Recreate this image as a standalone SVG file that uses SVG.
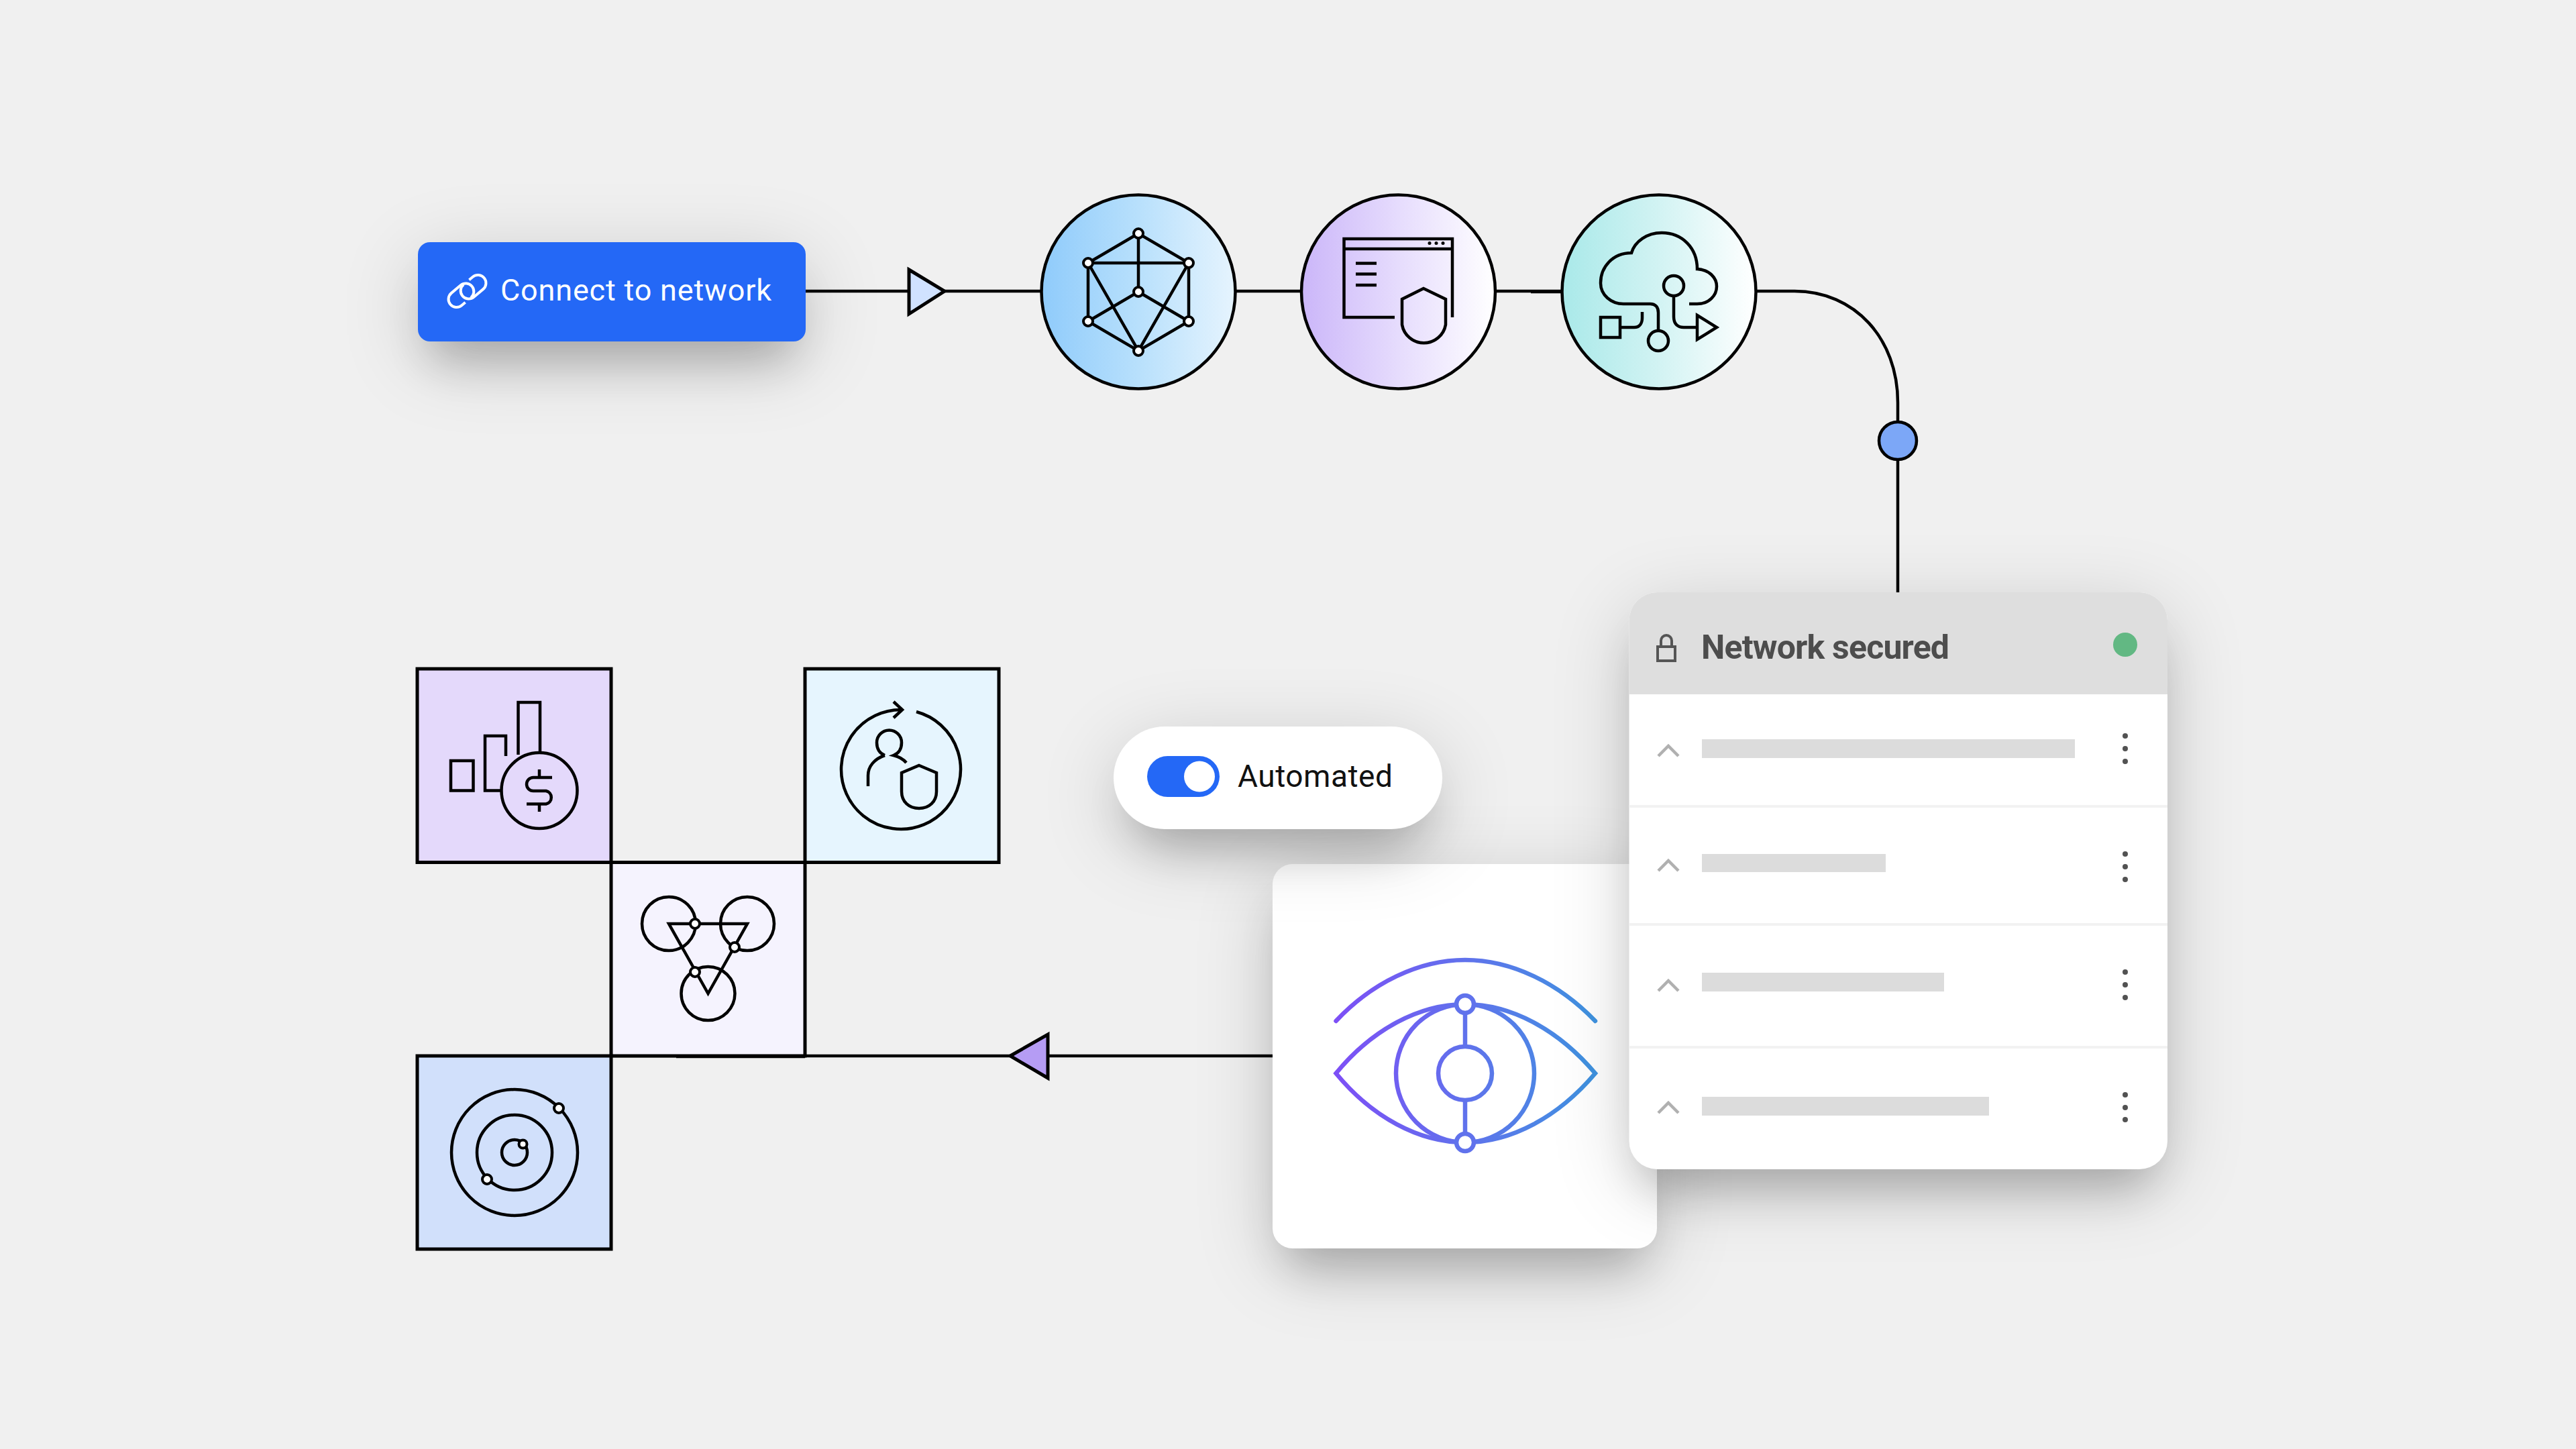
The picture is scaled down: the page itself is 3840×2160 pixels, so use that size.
<svg xmlns="http://www.w3.org/2000/svg" width="3840" height="2160" viewBox="0 0 3840 2160">
<style>
.ln{fill:none;stroke:#000;stroke-width:4.5}
.ic{fill:none;stroke:#000;stroke-width:4.5}
.nd{fill:#fff;stroke:#000;stroke-width:4}
.sq{stroke:#000;stroke-width:5}
.dot{fill:#525252}
.bar{fill:#dcdcdc}
.chev{fill:none;stroke:#b0b0b0;stroke-width:4.5}
.sep{fill:#f2f2f2}
.eye{fill:none;stroke:url(#eg);stroke-width:6.5}
text{font-family:"Roboto","Noto Sans","Liberation Sans",sans-serif}
</style>
<defs>
<linearGradient id="g1" x1="0" x2="1" y1="0" y2="0"><stop offset="0" stop-color="#8fcbfb"/><stop offset=".5" stop-color="#b8e0fc"/><stop offset="1" stop-color="#e6f4fe"/></linearGradient>
<linearGradient id="g2" x1="0" x2="1" y1="0" y2="0"><stop offset="0" stop-color="#cbb6f9"/><stop offset=".5" stop-color="#e6dcfd"/><stop offset="1" stop-color="#fff"/></linearGradient>
<linearGradient id="g3" x1="0" x2="1" y1="0" y2="0"><stop offset="0" stop-color="#a9e9e9"/><stop offset=".5" stop-color="#d2f3f3"/><stop offset="1" stop-color="#fff"/></linearGradient>
<linearGradient id="eg" gradientUnits="userSpaceOnUse" x1="1991" y1="1600" x2="2378" y2="1600"><stop offset="0" stop-color="#7d4ff6"/><stop offset=".5" stop-color="#6072ec"/><stop offset="1" stop-color="#3f93e0"/></linearGradient>
<filter id="sh" x="-50%" y="-120%" width="200%" height="360%" color-interpolation-filters="sRGB">
<feMorphology in="SourceAlpha" operator="erode" radius="18" result="e"/>
<feGaussianBlur in="e" stdDeviation="32" result="b1"/>
<feOffset in="b1" dy="48" result="o1"/>
<feComponentTransfer in="o1" result="a1"><feFuncA type="linear" slope=".2"/></feComponentTransfer>
<feGaussianBlur in="SourceAlpha" stdDeviation="60" result="b2"/>
<feOffset in="b2" dy="26" result="o2"/>
<feComponentTransfer in="o2" result="a2"><feFuncA type="linear" slope=".17"/></feComponentTransfer>
<feMerge><feMergeNode in="a2"/><feMergeNode in="a1"/><feMergeNode in="SourceGraphic"/></feMerge>
</filter>
<filter id="sl" x="-40%" y="-40%" width="180%" height="180%" color-interpolation-filters="sRGB">
<feMorphology in="SourceAlpha" operator="erode" radius="18" result="e"/>
<feGaussianBlur in="e" stdDeviation="32" result="b1"/>
<feOffset in="b1" dy="48" result="o1"/>
<feComponentTransfer in="o1" result="a1"><feFuncA type="linear" slope=".2"/></feComponentTransfer>
<feGaussianBlur in="SourceAlpha" stdDeviation="60" result="b2"/>
<feOffset in="b2" dy="26" result="o2"/>
<feComponentTransfer in="o2" result="a2"><feFuncA type="linear" slope=".17"/></feComponentTransfer>
<feMerge><feMergeNode in="a2"/><feMergeNode in="a1"/><feMergeNode in="SourceGraphic"/></feMerge>
</filter>
</defs>
<rect width="3840" height="2160" fill="#f0f0f0"/>

<g id="connectors">
<path class="ln" d="M1201 434H1555"/>
<path class="ln" d="M1840 434H1941"/>
<path class="ln" d="M2228 434H2330"/>
<path class="ln" d="M2282 435H2330"/>
<path class="ln" d="M2616 434H2675C2765 434 2829 505 2829 600V884"/>
<path class="ln" d="M911 1574H1897"/>
<path class="ln" d="M1008 1575H1200"/>
<polygon points="1355,402 1408,434 1355,468" fill="#d0e2ff" stroke="#000" stroke-width="5"/>
<polygon points="1506,1574 1562,1542 1562,1607" fill="#b59cf4" stroke="#000" stroke-width="5"/>
<circle cx="2829" cy="657" r="28" fill="#7ca7f7" stroke="#000" stroke-width="4.500"/>
</g>

<g id="node-button">
<rect x="623" y="361" width="578" height="148" rx="18" fill="#2468f6" filter="url(#sh)"/>
<g fill="none" stroke="#fff" stroke-width="4" transform="translate(696.500 434) rotate(-40)">
<path d="M-13 11H-20a12 12 0 0 1 0-24H-2a12 12 0 0 1 0 24"/>
<path d="M13 -11H20a12 12 0 0 1 0 24H2a12 12 0 0 1 0-24"/>
</g>
<text x="746" y="448" font-size="45" fill="#fff" textLength="404">Connect to network</text>
</g>

<g id="node-network">
<circle cx="1697" cy="435" r="144.500" fill="url(#g1)" stroke="#000" stroke-width="4.500"/>
<path class="ic" d="M1697 348L1622 392H1772ZM1697 348V435L1622 479M1697 435L1772 479M1622 392V479L1697 523L1772 479V392M1622 392L1697 523L1772 392"/>
<g class="nd"><circle cx="1697" cy="348" r="7"/><circle cx="1622" cy="392" r="7"/><circle cx="1772" cy="392" r="7"/><circle cx="1697" cy="435" r="7"/><circle cx="1622" cy="479" r="7"/><circle cx="1772" cy="479" r="7"/><circle cx="1697" cy="523" r="7"/></g>
</g>

<g id="node-window">
<circle cx="2084.500" cy="435" r="144.500" fill="url(#g2)" stroke="#000" stroke-width="4.500"/>
<path class="ic" d="M2079 473H2003.500V356H2165V473M2003.500 371H2165M2021 392.500H2052M2021 408.500H2052M2021 425H2052"/>
<circle cx="2131" cy="362.500" r="2.500"/><circle cx="2141" cy="362.500" r="2.500"/><circle cx="2151" cy="362.500" r="2.500"/>
<path class="ic" d="M2122 430L2155 446V484A33 33 0 0 1 2090 484V446Z"/>
</g>

<g id="node-cloud">
<circle cx="2473" cy="435" r="144.500" fill="url(#g3)" stroke="#000" stroke-width="4.500"/>
<path class="ic" d="M2518 453H2530C2548 453 2559 440 2559 427C2559 414 2548 402 2530 401C2530 370 2508 347 2477 347C2455 347 2437 360 2432 377C2404 377 2386 398 2386 422C2386 440 2402 453 2420 453H2460C2468 453 2472 458 2472 466V493"/>
<circle class="ic" cx="2472" cy="508" r="15"/>
<circle class="ic" cx="2495" cy="426" r="15"/>
<path class="ic" d="M2495 441V472C2495 482 2500 488 2510 488H2530"/>
<polygon class="ic" points="2530,470 2559,488 2530,506"/>
<rect class="ic" x="2386" y="473" width="29" height="30"/>
<path class="ic" d="M2415 488H2436C2444 488 2448 482 2448 474V465"/>
</g>

<g id="node-square-finance">
<rect class="sq" x="622" y="997" width="289" height="288.500" fill="#e4d9fb"/>
<path class="ic" d="M672 1134H705.500V1178.500H672ZM754 1127V1097H723V1178.500H748M772.500 1125V1047H805V1122"/>
<circle class="ic" cx="804" cy="1178.500" r="56.500"/>
<path class="ic" d="M823 1159H795a10 10 0 0 0 0 20H814a10 10 0 0 1 0 19.500H785M804 1147V1159M804 1198V1210"/>
</g>

<g id="node-square-identity">
<rect class="sq" x="1200" y="997" width="289" height="288.500" fill="#e6f5fe"/>
<path class="ic" d="M1345 1058A89 89 0 1 0 1366 1061M1332 1046L1345 1058L1332 1070"/>
<path class="ic" d="M1319 1126C1309 1122 1307 1114 1307 1107A18.500 18.500 0 0 1 1344 1107C1344 1114 1342 1122 1332 1126C1340 1128 1346 1131 1351 1137M1319 1126C1304 1131 1294 1142 1294 1156V1172"/>
<path class="ic" d="M1370 1141L1396 1152V1180C1396 1195 1385 1205 1370 1205C1355 1205 1344 1195 1344 1180V1152Z"/>
</g>

<g id="node-square-triad">
<rect class="sq" x="911" y="1285.500" width="289" height="288.500" fill="#f5f3fe"/>
<circle class="ic" cx="997" cy="1377" r="40"/><circle class="ic" cx="1114" cy="1377" r="40"/><circle class="ic" cx="1055.500" cy="1481" r="40"/>
<polygon class="ic" points="997,1377 1114,1377 1055.500,1481"/>
<g class="nd"><circle cx="1036" cy="1377" r="7"/><circle cx="1095" cy="1412" r="7"/><circle cx="1036" cy="1449" r="7"/></g>
</g>

<g id="node-square-orbit">
<rect class="sq" x="622" y="1574" width="289" height="288" fill="#d1e0fb"/>
<circle class="ic" cx="767" cy="1718" r="94"/><circle class="ic" cx="767" cy="1718" r="56"/><circle class="ic" cx="767" cy="1718" r="19"/>
<g class="nd"><circle cx="833" cy="1652" r="7"/><circle cx="726" cy="1758" r="7"/><circle cx="779.500" cy="1705.500" r="6"/></g>
</g>

<g id="node-eye">
<rect x="1897" y="1288" width="573" height="573" rx="30" fill="#fff" filter="url(#sl)"/>
<path class="eye" d="M1991.500 1600C2045 1535 2115 1497 2184 1497C2253 1497 2323 1535 2378 1600C2323 1665 2253 1703 2184 1703C2115 1703 2045 1665 1991.500 1600Z"/>
<path class="eye" stroke-linecap="round" d="M1991.500 1522C2045 1465 2115 1431 2184 1431C2253 1431 2323 1465 2378 1522"/>
<circle class="eye" cx="2184" cy="1600" r="103"/>
<circle class="eye" cx="2184" cy="1600" r="40"/>
<path class="eye" d="M2184 1497V1560M2184 1640V1703"/>
<circle cx="2184" cy="1497" r="13" fill="#fff" stroke="#6072ec" stroke-width="6.500"/>
<circle cx="2184" cy="1703" r="13" fill="#fff" stroke="#6072ec" stroke-width="6.500"/>
</g>

<g id="node-toggle">
<rect x="1660" y="1083" width="490" height="153" rx="76.500" fill="#fff" filter="url(#sh)"/>
<rect x="1710" y="1127" width="108" height="61" rx="30.500" fill="#2468f6"/>
<circle cx="1788" cy="1157.500" r="23" fill="#fff"/>
<text x="1845" y="1173" font-size="46" fill="#111" textLength="231">Automated</text>
</g>

<g id="node-panel">
<rect x="2428.500" y="883" width="802.500" height="860" rx="42" fill="#fff" filter="url(#sl)"/>
<path d="M2428.500 1035V925a42 42 0 0 1 42-42H3189a42 42 0 0 1 42 42V1035Z" fill="#dedede"/>
<path d="M2471 964H2497V985H2471ZM2476 964V955a8 8 0 0 1 16 0V964" fill="none" stroke="#555" stroke-width="4"/>
<text x="2536" y="982" font-size="50" font-weight="700" fill="#4d4d4d" textLength="370">Network secured</text>
<circle cx="3168" cy="961" r="18" fill="#62b883"/>
<rect class="sep" x="2428.500" y="1200" width="802.500" height="4"/>
<rect class="sep" x="2428.500" y="1376" width="802.500" height="4"/>
<rect class="sep" x="2428.500" y="1559" width="802.500" height="4"/>
<rect class="bar" x="2537" y="1102" width="556" height="28"/>
<rect class="bar" x="2537" y="1273" width="274" height="27"/>
<rect class="bar" x="2537" y="1450" width="361" height="28"/>
<rect class="bar" x="2537" y="1635" width="428" height="28"/>
<path class="chev" d="M2472 1127L2487 1112L2502 1127M2472 1298L2487 1283L2502 1298M2472 1477L2487 1462L2502 1477M2472 1659L2487 1644L2502 1659"/>
<g class="dot">
<circle cx="3168" cy="1097" r="4"/><circle cx="3168" cy="1116" r="4"/><circle cx="3168" cy="1135" r="4"/>
<circle cx="3168" cy="1273" r="4"/><circle cx="3168" cy="1292" r="4"/><circle cx="3168" cy="1311" r="4"/>
<circle cx="3168" cy="1449" r="4"/><circle cx="3168" cy="1468" r="4"/><circle cx="3168" cy="1487" r="4"/>
<circle cx="3168" cy="1632" r="4"/><circle cx="3168" cy="1651" r="4"/><circle cx="3168" cy="1669" r="4"/>
</g>
</g>
</svg>
